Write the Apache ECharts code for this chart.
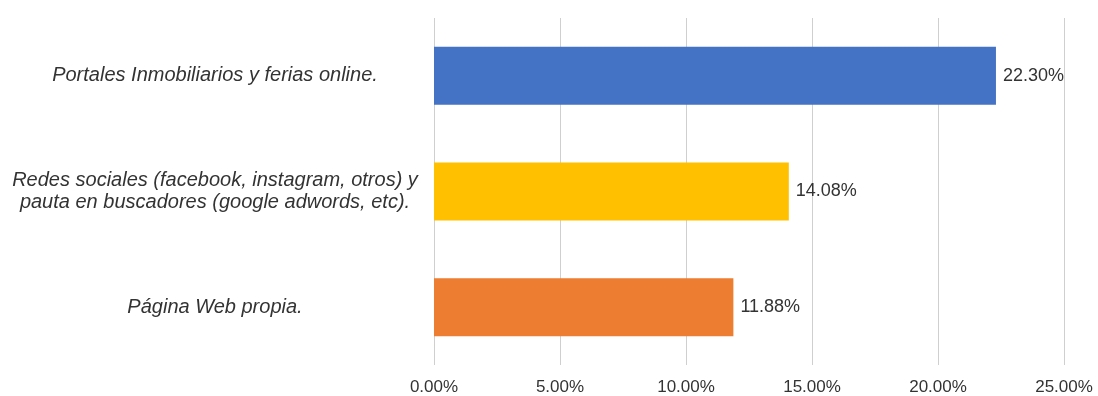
<!DOCTYPE html>
<html lang="es">
<head>
    <meta charset="UTF-8">
    <title>Canales</title>
    <style>
        html, body { margin: 0; padding: 0; background: #fff; }
        #main { width: 1098px; height: 396px; }
    </style>
</head>
<body>
<div id="main"></div>
<script src="https://cdn.jsdelivr.net/npm/echarts@6/dist/echarts.min.js"></script>
<script type="text/javascript">
    var categories = [
        'Portales Inmobiliarios y ferias online.',
        'Redes sociales (facebook, instagram, otros) y\npauta en buscadores (google adwords, etc).',
        'Página Web propia.'
    ];
    var values = [22.30, 14.08, 11.88];
    var barColors = ['#4472C4', '#FFC000', '#ED7D31'];
    var tickValues = [0, 5, 10, 15, 20, 25];

    var myChart = echarts.init(document.getElementById('main'));

    var option = {
        backgroundColor: '#fff',
        animation: false,
        grid: {
            left: 434,
            right: 34,
            top: 18,
            bottom: 26
        },
        xAxis: {
            type: 'value',
            min: tickValues[0],
            max: tickValues[tickValues.length - 1],
            interval: 5,
            axisLine: { show: false },
            axisTick: { show: false },
            splitLine: { lineStyle: { color: '#cfcfcf', width: 1 } },
            axisLabel: {
                margin: 14,
                fontFamily: 'Liberation Sans, Arial, sans-serif',
                fontSize: 17,
                color: '#333',
                formatter: function (v) { return v.toFixed(2) + '%'; }
            }
        },
        yAxis: {
            type: 'category',
            inverse: true,
            data: categories,
            axisLine: { show: false },
            axisTick: { show: false },
            splitLine: { show: false },
            axisLabel: {
                margin: 219,
                align: 'center',
                fontFamily: 'Liberation Sans, Arial, sans-serif',
                fontStyle: 'italic',
                fontSize: 20,
                lineHeight: 22,
                color: '#333'
            }
        },
        series: [
            {
                type: 'bar',
                barWidth: 58,
                data: values.map(function (v, i) {
                    return { value: v, itemStyle: { color: barColors[i] } };
                }),
                label: {
                    show: true,
                    position: 'right',
                    distance: 7,
                    fontFamily: 'Liberation Sans, Arial, sans-serif',
                    fontSize: 18,
                    color: '#333',
                    formatter: function (p) { return p.value.toFixed(2) + '%'; }
                }
            }
        ]
    };
    myChart.setOption(option);
</script>
</body>
</html>
